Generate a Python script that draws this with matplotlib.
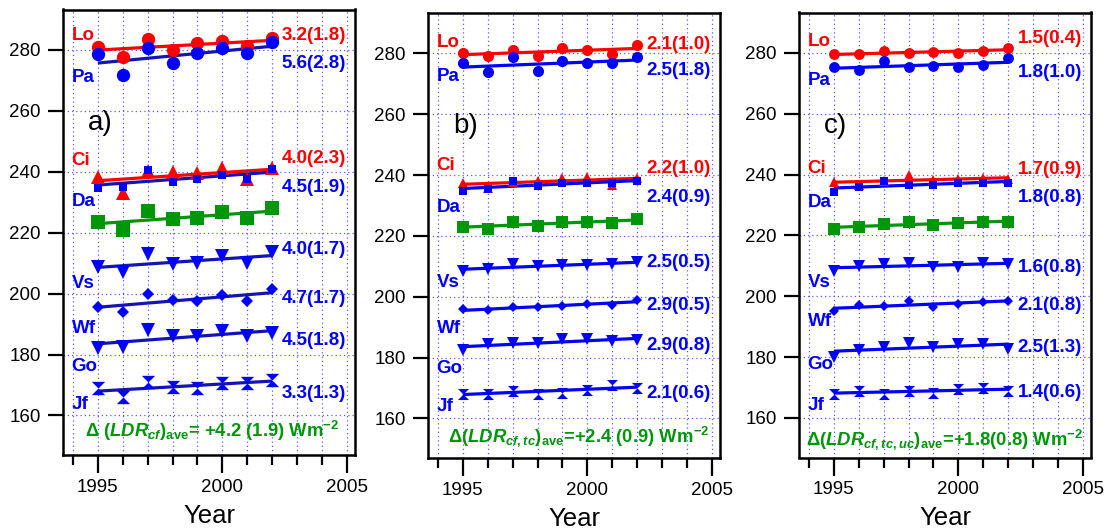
import numpy as np
import matplotlib
matplotlib.use("Agg")
import matplotlib.pyplot as plt
from matplotlib.path import Path

plt.rcParams['font.family'] = ['Liberation Sans', 'DejaVu Sans']
plt.rcParams['mathtext.fontset'] = 'custom'
plt.rcParams['mathtext.rm'] = 'Liberation Sans:bold'
plt.rcParams['mathtext.it'] = 'Liberation Sans:italic:bold'
plt.rcParams['mathtext.bf'] = 'Liberation Sans:bold'

# ---------------- data ----------------
years = [1995, 1996, 1997, 1998, 1999, 2000, 2001, 2002]
names = ["Lo", "Pa", "Ci", "Da", "", "Vs", "Wf", "Go", "Jf"]

# panel a) LDR_cf
lo_a = [281.1, 277.6, 283.5, 280.0, 282.2, 283.1, 281.3, 283.8]
pa_a = [278.7, 271.7, 280.8, 275.6, 278.9, 280.5, 278.9, 282.7]
ci_a = [238.4, 233.1, 240.3, 240.0, 239.5, 241.4, 237.8, 241.1]
da_a = [234.8, 235.1, 240.5, 236.7, 237.8, 238.9, 237.6, 240.8]
gr_a = [223.6, 220.8, 227.2, 224.4, 224.7, 226.8, 224.7, 228.0]
vs_a = [208.7, 207.1, 213.0, 209.8, 210.0, 212.2, 210.0, 213.6]
wf_a = [195.6, 194.0, 199.8, 197.8, 197.5, 199.7, 197.5, 201.4]
go_a = [182.0, 182.6, 188.0, 186.0, 186.0, 187.7, 186.0, 187.1]
jf_a = [168.9, 166.1, 171.1, 169.2, 168.9, 170.6, 170.6, 171.6]
trend_a = ["3.2(1.8)", "5.6(2.8)", "4.0(2.3)", "4.5(1.9)", "",
           "4.0(1.7)", "4.7(1.7)", "4.5(1.8)", "3.3(1.3)"]

# panel b) LDR_cf,tc
lo_b = [280.0, 279.2, 281.1, 279.2, 281.9, 281.1, 279.8, 282.7]
pa_b = [276.7, 273.8, 278.7, 274.2, 277.5, 276.9, 276.7, 278.9]
ci_b = [237.5, 235.8, 237.8, 238.1, 238.9, 239.5, 236.9, 239.2]
da_b = [234.8, 235.6, 238.0, 236.4, 237.5, 237.5, 237.3, 238.1]
gr_b = [223.0, 222.4, 224.7, 223.3, 224.7, 224.7, 224.3, 225.5]
vs_b = [208.5, 209.3, 210.7, 210.1, 210.4, 210.4, 210.7, 211.5]
wf_b = [195.9, 195.6, 196.5, 196.7, 197.0, 197.5, 197.3, 199.1]
go_b = [182.5, 184.4, 184.9, 184.7, 186.0, 186.0, 185.4, 185.8]
jf_b = [168.2, 168.2, 169.1, 168.0, 168.5, 169.5, 171.0, 170.1]
trend_b = ["2.1(1.0)", "2.5(1.8)", "2.2(1.0)", "2.4(0.9)", "",
           "2.5(0.5)", "2.9(0.5)", "2.9(0.8)", "2.1(0.6)"]

# panel c) LDR_cf,tc,uc
lo_c = [279.5, 279.7, 280.5, 280.0, 280.2, 279.9, 280.8, 281.6]
pa_c = [275.3, 274.5, 277.2, 275.3, 275.6, 275.3, 276.1, 278.3]
ci_c = [237.6, 236.7, 237.8, 239.8, 238.1, 238.5, 238.9, 238.5]
da_c = [234.3, 236.0, 237.8, 236.7, 236.7, 237.3, 237.3, 237.3]
gr_c = [222.0, 222.8, 223.9, 224.5, 223.4, 224.2, 224.5, 224.3]
vs_c = [208.2, 210.1, 210.6, 211.1, 209.5, 209.7, 211.1, 210.6]
wf_c = [195.0, 197.2, 196.9, 198.4, 196.6, 197.5, 198.0, 198.6]
go_c = [180.2, 182.4, 183.3, 184.6, 183.3, 184.2, 184.2, 182.7]
jf_c = [168.0, 168.9, 168.0, 168.9, 168.3, 169.6, 169.9, 168.9]
trend_c = ["1.5(0.4)", "1.8(1.0)", "1.7(0.9)", "1.8(0.8)", "",
           "1.6(0.8)", "2.1(0.8)", "2.5(1.3)", "1.4(0.6)"]

panel_letters = ["a)", "b)", "c)"]
summaries = [
    r"Δ ($LDR_{cf}$)$_{\mathrm{ave}}$= +4.2 (1.9) Wm$^{\mathrm{-2}}$",
    r"Δ($LDR_{cf,tc}$)$_{\mathrm{ave}}$=+2.4 (0.9) Wm$^{\mathrm{-2}}$",
    r"Δ($LDR_{cf,tc,uc}$)$_{\mathrm{ave}}$=+1.8(0.8) Wm$^{\mathrm{-2}}$",
]

# ---------------- styles / layout ----------------
RED = "#ff0000"
BLUE = "#0000ff"
GREEN = "#00960a"
hourglass = Path([(-1, 1), (1, 1), (0, 0), (-1, 1),
                  (0, 0), (1, -1), (-1, -1), (0, 0)],
                 [Path.MOVETO, Path.LINETO, Path.LINETO, Path.CLOSEPOLY,
                  Path.MOVETO, Path.LINETO, Path.LINETO, Path.CLOSEPOLY])

colors = [RED, BLUE, RED, BLUE, GREEN, BLUE, BLUE, BLUE, BLUE]
markers = ['o', 'o', '^', 's', 's', 'v', 'D', 'v', hourglass]
# marker sizes (pt) per panel
msizes = [
    [9.6, 9.6, 10.0, 6.2, 9.4, 9.4, 5.8, 9.4, 9.6],
    [8.0, 8.0, 7.8, 5.6, 8.4, 8.0, 5.4, 8.0, 8.0],
    [7.8, 7.8, 7.8, 5.6, 8.4, 8.0, 5.4, 8.0, 8.0],
]
name_y = [
    [284.9, 271.1, 243.6, 230.2, None, 203.3, 188.5, 176.0, 163.6],
    [283.7, 272.5, 243.3, 229.5, None, 204.8, 189.7, 176.5, 164.0],
    [283.8, 270.9, 242.0, 230.9, None, 204.5, 191.7, 177.6, 164.1],
]
trend_y = [
    [284.9, 275.7, 244.3, 234.8, None, 214.4, 198.4, 184.6, 167.2],
    [283.0, 274.5, 242.3, 232.8, None, 211.2, 197.2, 184.1, 168.3],
    [284.7, 273.6, 241.7, 232.6, None, 209.4, 197.0, 183.2, 168.4],
]
summary_pos = [(1994.5, 154.8), (1994.4, 154.0), (1993.9, 153.0)]
line_blue = ["#1414b4", "#0000ff", "#0000ff"]

W, H = 1111, 532
fig = plt.figure(figsize=(W / 100, H / 100), dpi=100)
boxes = [(63, 9.5, 455), (428, 13, 458), (799, 12.5, 457.5)]

panels = [
    [lo_a, pa_a, ci_a, da_a, gr_a, vs_a, wf_a, go_a, jf_a],
    [lo_b, pa_b, ci_b, da_b, gr_b, vs_b, wf_b, go_b, jf_b],
    [lo_c, pa_c, ci_c, da_c, gr_c, vs_c, wf_c, go_c, jf_c],
]
trends = [trend_a, trend_b, trend_c]

for p in range(3):
    left, top, bottom = boxes[p]
    ax = fig.add_axes([left / W, (H - bottom) / H, 292 / W, (bottom - top) / H])
    ax.set_xlim(1993.6, 2005.33)
    ax.set_ylim(147, 293.3)
    ax.set_xticks([1995, 2000, 2005])
    ax.set_xticks(range(1994, 2006), minor=True)
    ax.set_yticks([160, 180, 200, 220, 240, 260, 280])
    ax.tick_params(axis='x', which='major', length=13, width=1.6, direction='out',
                   labelsize=13.5, pad=4)
    ax.tick_params(axis='x', which='minor', length=7, width=1.6, direction='out')
    ax.tick_params(axis='y', which='major', length=11, width=1.6, direction='out',
                   labelsize=13.5, pad=5)
    for s in ax.spines.values():
        s.set_linewidth(1.8)
    ax.grid(True, axis='x', which='both', color='#5a5aff', linewidth=0.9,
            linestyle=(0, (1, 2.4)))
    ax.grid(True, axis='y', which='major', color='#5a5aff', linewidth=0.9,
            linestyle=(0, (1, 2.4)))
    ax.set_axisbelow(True)
    ax.set_xlabel("Year", fontsize=18.5, labelpad=6)

    series = panels[p]
    for i, vals in enumerate(series):
        c = colors[i]
        lc = c if c != BLUE else line_blue[p]
        coef = np.polyfit(years, vals, 1)
        xs = [years[0], years[-1]]
        ax.plot(xs, np.polyval(coef, xs), color=lc, lw=2.3, zorder=3,
                solid_capstyle='butt')
        ax.plot(years, vals, linestyle='none', marker=markers[i], ms=msizes[p][i],
                color=c, mew=0, zorder=4)
        if names[i]:
            ax.text(1993.95, name_y[p][i], names[i], color=c, fontsize=13.5,
                    fontweight='bold', ha='left', va='center')
            ax.text(2002.38, trend_y[p][i], trends[p][i], color=c, fontsize=13.5,
                    fontweight='bold', ha='left', va='center')
    ax.text(1994.6, 256, panel_letters[p], fontsize=20, ha='left', va='center')
    sx, sy = summary_pos[p]
    ax.text(sx, sy, summaries[p], color=GREEN, fontsize=13.3, fontweight='bold',
            ha='left', va='center')

fig.savefig("out.png", dpi=100)
